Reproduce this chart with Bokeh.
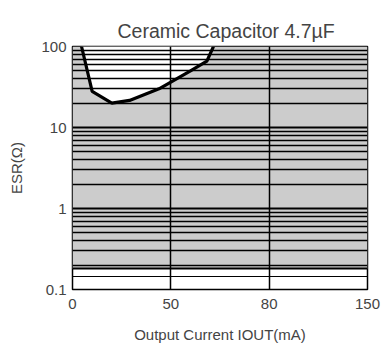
import numpy as np
from bokeh.plotting import figure
from bokeh.models import FixedTicker, CustomJSTickFormatter
from bokeh.embed import file_html
from bokeh.resources import INLINE

# x axis: non-uniform tick values, drawn equally spaced
x_tick_values = [0, 50, 80, 150]
x_tick_labels = ["0", "50", "80", "150"]
y_major = [0.1, 1, 10, 100]
y_minor = [0.2, 0.3, 0.4, 0.5, 0.6, 0.7, 0.8, 0.9,
           2, 3, 4, 5, 6, 7, 8, 9,
           20, 30, 40, 50, 60, 70, 80, 90]
extra_line = [0.145]

# stability boundary curve (Output current mA, ESR ohm)
curve_ma = [4.6, 10, 20, 29, 44, 56, 61, 63]
curve_esr = [100, 28, 20, 21.6, 30, 50, 66, 100]
esr_lower = 0.18
esr_upper = 100

pos_ticks = list(range(len(x_tick_values)))
curve_pos = np.interp(curve_ma, x_tick_values, pos_ticks)

FONT = "Liberation Sans"

p = figure(frame_width=295, frame_height=243,
           min_border_left=72, min_border_right=14,
           min_border_top=46, min_border_bottom=52,
           x_range=(0, 3), y_range=(0.1, 100), y_axis_type="log",
           output_backend="svg", toolbar_location=None,
           title="Ceramic Capacitor 4.7\u00b5F")
p.title.align = "left"
p.title.text_font = FONT
p.title.text_font_size = "19.5px"
p.title.text_font_style = "normal"
p.title.standoff = 10
p.title.offset = 45
try:
    p.title.padding = (0, 0, 7, 0)
except Exception:
    pass

p.grid.visible = False
p.outline_line_color = "black"
p.outline_line_width = 1.5

# shaded stable region
p.varea(x=[0, 3], y1=[esr_lower, esr_lower], y2=[esr_upper, esr_upper],
        fill_color="#cccccc")
# unstable (white) region above curve
p.varea(x=curve_pos, y1=curve_esr, y2=[esr_upper] * len(curve_esr),
        fill_color="white")

# grid lines
p.hspan(y=y_minor, line_color="black", line_width=1.3)
p.hspan(y=y_major[1:-1], line_color="black", line_width=1.8)
p.hspan(y=[esr_lower], line_color="black", line_width=2)
p.hspan(y=extra_line, line_color="black", line_width=1)
p.vspan(x=pos_ticks[1:-1], line_color="black", line_width=1.5)

# boundary curve
p.line(curve_pos, curve_esr, line_color="black", line_width=3.2)

# axes
p.xaxis.ticker = FixedTicker(ticks=pos_ticks)
p.xaxis.major_label_overrides = {i: lab for i, lab in zip(pos_ticks, x_tick_labels)}
p.yaxis.ticker = FixedTicker(ticks=y_major)
p.yaxis.formatter = CustomJSTickFormatter(code="return tick.toString();")

for ax in (p.xaxis[0], p.yaxis[0]):
    ax.axis_line_color = None
    ax.major_tick_line_color = None
    ax.minor_tick_line_color = None
    ax.major_label_text_font = FONT
    ax.major_label_text_font_size = "15px"
    ax.axis_label_text_font = FONT
    ax.axis_label_text_font_size = "15px"
    ax.axis_label_text_font_style = "normal"

p.xaxis.axis_label = "Output Current IOUT(mA)"
p.xaxis.major_label_standoff = 3
p.xaxis.axis_label_standoff = 14
p.yaxis.axis_label = "ESR(\u03a9)"
p.yaxis.major_label_standoff = 0
p.yaxis.axis_label_standoff = 13

open("out.html", "w").write(file_html(p, INLINE))
